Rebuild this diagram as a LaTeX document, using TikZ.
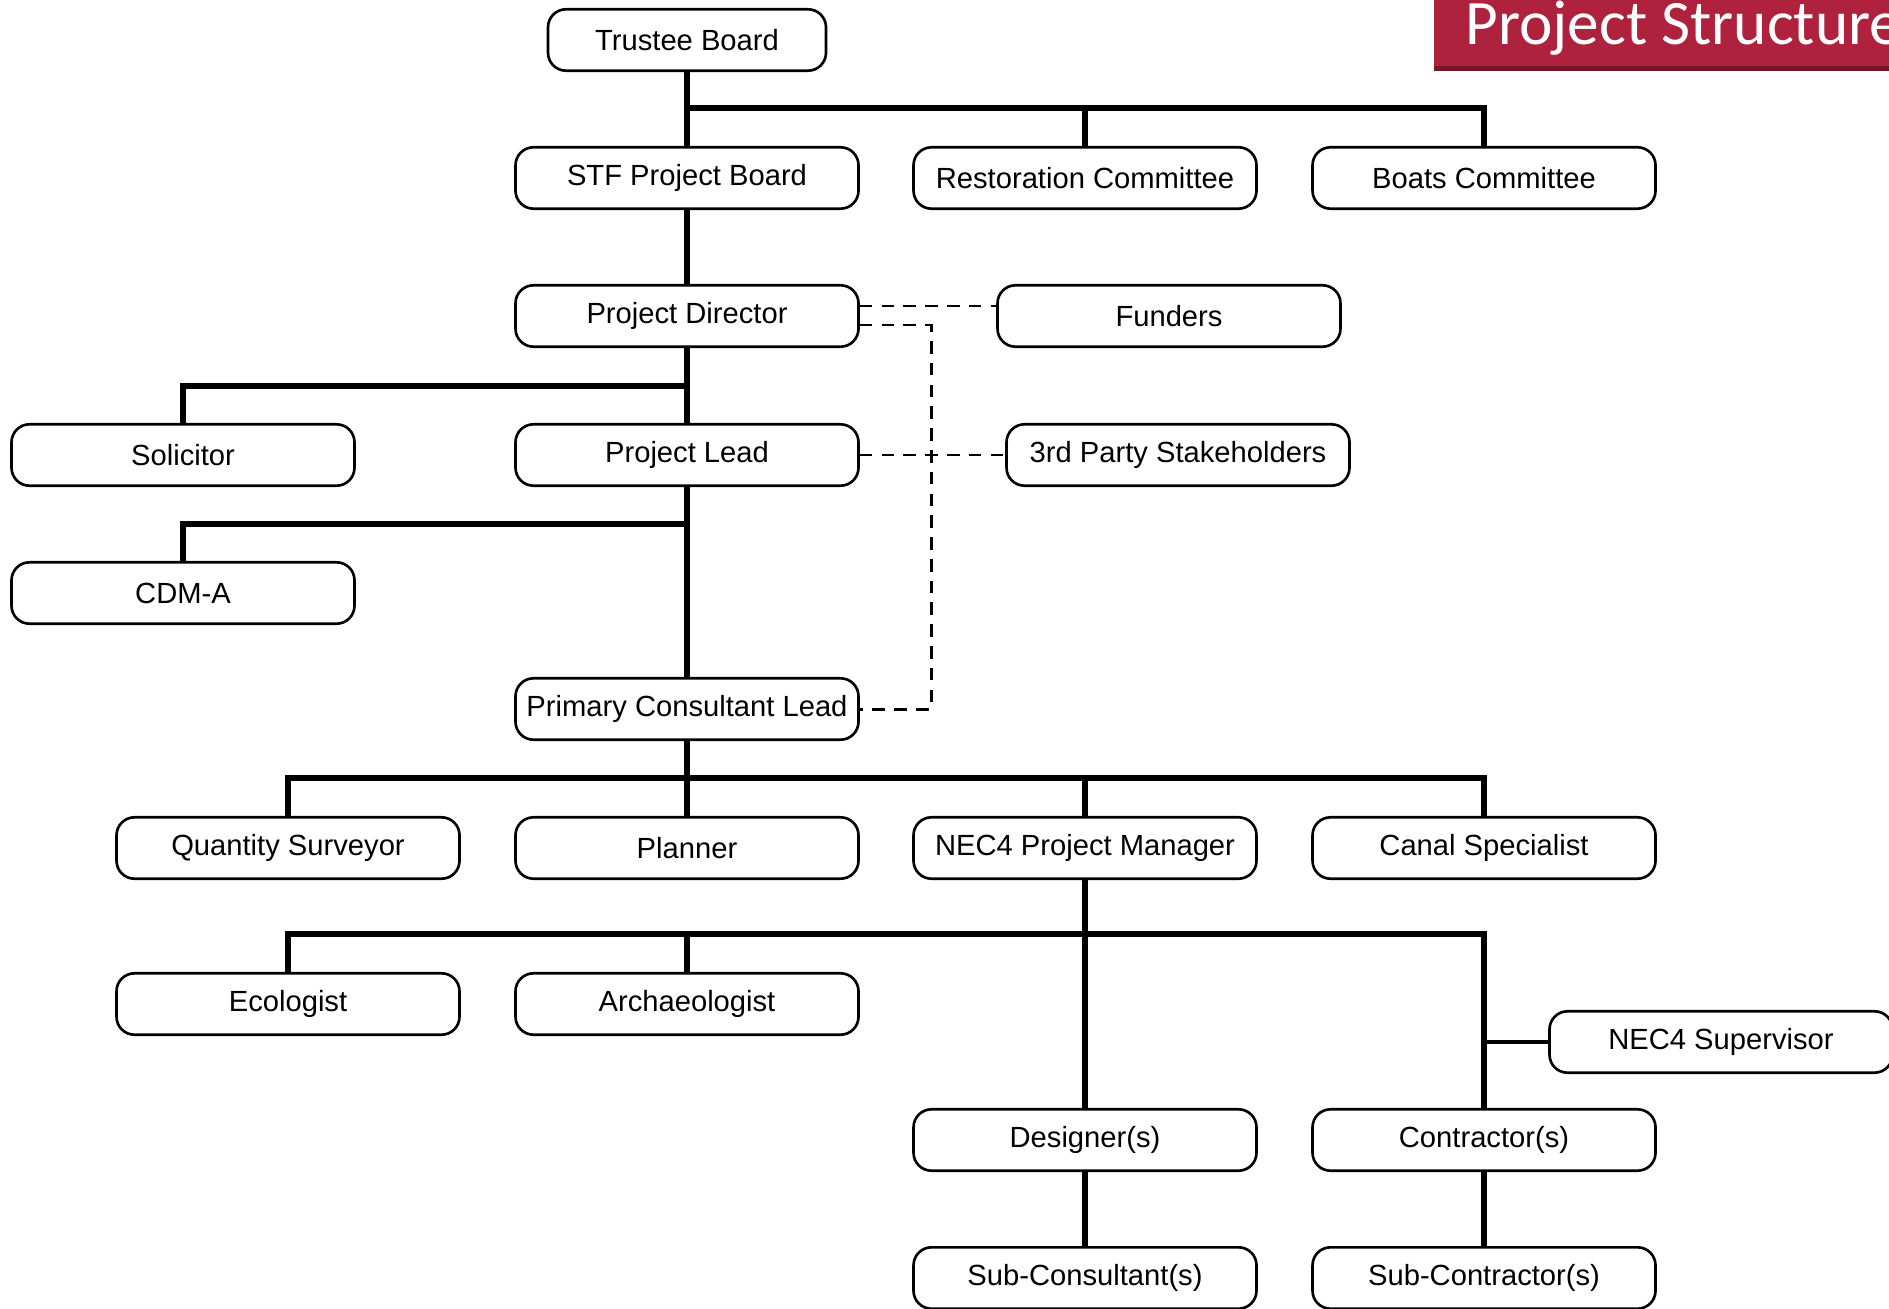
\documentclass[tikz,border=0pt]{standalone}
\usepackage{fontspec}
\setmainfont{Liberation Sans}
\newfontfamily\titlefont{Carlito}
\usetikzlibrary{arrows}
\definecolor{titlered}{RGB}{174,34,62}
\definecolor{titleshade}{RGB}{118,22,42}

\begin{document}
\begin{tikzpicture}
\tikzstyle{box}=[draw, fill=white, rounded corners=0.18cm, minimum width=3.43cm, minimum height=0.614cm, inner sep=0pt, line width=0.75pt, font=\fontsize{8.3}{10}\selectfont]
\tikzstyle{tree}=[line width=1.7pt]
\tikzstyle{link}=[line width=0.85pt, dash pattern=on 3.6pt off 2.6pt]
\clip (0,0) rectangle (18.89,-13.08);
\fill[titleshade] (14.34,0) rectangle (18.89,-0.71);
\fill[titlered] (14.34,0) rectangle (18.89,-0.66);
\draw (14.65,-0.45) node (title) [anchor=base west, inner sep=0pt, text=white, font=\titlefont\fontsize{18}{20}\selectfont] {Project Structure};
\draw (6.87,-0.40) node (tb) [box, minimum width=2.78cm] {Trustee Board};
\draw (6.87,-1.78) node (stf) [box] {STF Project Board};
\draw (10.85,-1.78) node (rest) [box] {Restoration Committee};
\draw (14.84,-1.78) node (boats) [box] {Boats Committee};
\draw (6.87,-3.16) node (pd) [box] {Project Director};
\draw (11.69,-3.16) node (fund) [box] {Funders};
\draw (1.83,-4.55) node (sol) [box] {Solicitor};
\draw (6.87,-4.55) node (pl) [box] {Project Lead};
\draw (11.78,-4.55) node (stake) [box] {3rd Party Stakeholders};
\draw (1.83,-5.93) node (cdm) [box] {CDM-A};
\draw (6.87,-7.09) node (pcl) [box] {Primary Consultant Lead};
\draw (2.88,-8.48) node (qs) [box] {Quantity Surveyor};
\draw (6.87,-8.48) node (plan) [box] {Planner};
\draw (10.85,-8.48) node (pm) [box] {NEC4 Project Manager};
\draw (14.84,-8.48) node (canal) [box] {Canal Specialist};
\draw (2.88,-10.04) node (eco) [box] {Ecologist};
\draw (6.87,-10.04) node (arch) [box] {Archaeologist};
\draw (17.21,-10.42) node (sup) [box] {NEC4 Supervisor};
\draw (10.85,-11.40) node (des) [box] {Designer(s)};
\draw (14.84,-11.40) node (con) [box] {Contractor(s)};
\draw (10.85,-12.78) node (subcons) [box] {Sub-Consultant(s)};
\draw (14.84,-12.78) node (subcon) [box] {Sub-Contractor(s)};
\coordinate (b1) at (6.87,-1.08);
\coordinate (b2) at (6.87,-3.86);
\coordinate (b3) at (6.87,-5.24);
\coordinate (b4) at (6.87,-7.78);
\coordinate (b5) at (10.85,-9.34);
\coordinate (d1) at (9.31,-7.09);
\draw[tree] (tb) -- (stf);
\draw[tree] (b1) -| (rest);
\draw[tree] (b1) -| (boats);
\draw[tree] (stf) -- (pd);
\draw[tree] (pd) -- (pl);
\draw[tree] (b2) -| (sol);
\draw[tree] (pl) -- (pcl);
\draw[tree] (b3) -| (cdm);
\draw[tree] (pcl) -- (plan);
\draw[tree] (b4) -| (qs);
\draw[tree] (b4) -| (pm);
\draw[tree] (b4) -| (canal);
\draw[tree] (pm) -- (des);
\draw[tree] (b5) -| (eco);
\draw[tree] (b5) -| (arch);
\draw[tree] (b5) -| (con);
\draw[line width=1.1pt] (sup) -- (sup -| con);
\draw[tree] (des) -- (subcons);
\draw[tree] (con) -- (subcon);
\draw[link] ([yshift=0.1cm]pd.east) -- ([yshift=0.1cm]fund.west);
\draw[link] ([yshift=-0.09cm]pd.east) -| (d1) -- (pcl.east);
\draw[link] (pl) -- (stake);
\end{tikzpicture}
\end{document}
